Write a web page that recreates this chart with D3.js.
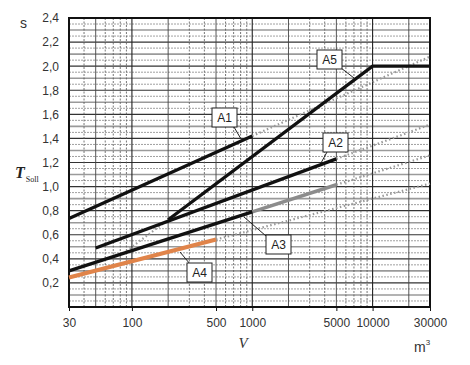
<!DOCTYPE html>
<html><head><meta charset="utf-8">
<script src="https://cdn.jsdelivr.net/npm/d3@7"></script>
<style>body{margin:0;background:#fff}svg{display:block}</style>
</head><body>
<svg id="c" width="470" height="365"></svg>
<script>
// ---- data ----
const xTickLabels = [30, 100, 500, 1000, 5000, 10000, 30000];
const yTickLabels = [0.2, 0.4, 0.6, 0.8, 1.0, 1.2, 1.4, 1.6, 1.8, 2.0, 2.2, 2.4];
// solid segments [V, T]
const lineA1 = [[30, 0.735], [1000, 1.42]];
const lineA2 = [[50, 0.49], [5000, 1.23]];
const lineA3 = [[30, 0.30], [1000, 0.79]];
const lineA3gray = [[1000, 0.79], [5000, 1.015]];
const lineA4 = [[30, 0.245], [500, 0.56]];
const lineA5 = [[200, 0.725], [10000, 2.0], [30000, 2.0]];
// dotted extensions
const dotA1 = [[1000, 1.42], [30000, 2.08]];
const dotA2 = [[5000, 1.23], [30000, 1.515]];
const dotA3 = [[5000, 1.015], [30000, 1.26]];
const dotA4 = [[500, 0.56], [30000, 1.025]];
const dotA5 = [[90, 0.465], [200, 0.725]];
const labelNames = ["A1", "A2", "A3", "A4", "A5"];

const svg = d3.select("#c");
const x = d3.scaleLog().domain([30, 30000]).range([69, 430]);
const y = d3.scaleLinear().domain([0, 2.4]).range([307, 18]);

// grid
const g = svg.append("g");
for (let v = 0.05; v < 2.4; v += 0.05) {
  const k = Math.round(v * 100);
  let stroke = "#888", w = 0.8, dash = "2,1";
  if (k % 20 === 0) { stroke = "#333"; w = 1.2; dash = null; }
  else if (k % 10 === 0) { stroke = "#9a9a9a"; w = 1.6; dash = null; }
  g.append("line").attr("x1", 69).attr("x2", 430).attr("y1", y(v)).attr("y2", y(v))
    .attr("stroke", stroke).attr("stroke-width", w).attr("stroke-dasharray", dash);
}
const vg = [];
for (const d of [10, 100, 1000, 10000]) for (let m = 1; m <= 9; m++) { const v = d * m; if (v > 30 && v < 30000) vg.push([v, m]); }
vg.forEach(([v, m]) => {
  let stroke = "#555", w = 0.8, dash = "2,1.5";
  if (m === 1) { stroke = "#222"; w = 1.1; dash = null; }
  else if (m === 2 || m === 5) { stroke = "#444"; w = 0.9; dash = null; }
  g.append("line").attr("x1", x(v)).attr("x2", x(v)).attr("y1", 18).attr("y2", 307)
    .attr("stroke", stroke).attr("stroke-width", w).attr("stroke-dasharray", dash);
});

// frame
svg.append("rect").attr("x", 69).attr("y", 18).attr("width", 361).attr("height", 289)
  .attr("fill", "none").attr("stroke", "#111").attr("stroke-width", 2);

// axes
const xAxis = d3.axisBottom(x).tickValues(xTickLabels).tickFormat(d => d).tickSize(4).tickSizeOuter(0);
const ax = svg.append("g").attr("transform", "translate(0,307)").call(xAxis);
ax.select(".domain").remove();
ax.selectAll("text").attr("font-family", "Liberation Sans, Arial, sans-serif").attr("font-size", 12).attr("fill", "#333").attr("dy", "1.1em");
ax.selectAll("line").attr("stroke", "#111");
const yAxis = d3.axisLeft(y).tickValues(yTickLabels).tickFormat(d => d3.format(".1f")(d).replace(".", ",")).tickSize(0).tickPadding(10);
const ay = svg.append("g").attr("transform", "translate(69,0)").call(yAxis);
ay.select(".domain").remove();
ay.selectAll("text").attr("font-family", "Liberation Sans, Arial, sans-serif").attr("font-size", 12).attr("fill", "#333");

// lines
const lg = d3.line().x(d => x(d[0])).y(d => y(d[1]));
const dotted = [dotA1, dotA2, dotA3, dotA4, dotA5];
dotted.forEach(d => svg.append("path").attr("d", lg(d)).attr("fill", "none")
  .attr("stroke", "#999").attr("stroke-width", 2.2).attr("stroke-dasharray", "1.5,2.5"));
svg.append("path").attr("d", lg(lineA3gray)).attr("fill", "none").attr("stroke", "#8c8c8c").attr("stroke-width", 3.6);
svg.append("path").attr("d", lg(lineA4)).attr("fill", "none").attr("stroke", "#e0844a").attr("stroke-width", 4.2);
[lineA1, lineA2, lineA3, lineA5].forEach(d => svg.append("path").attr("d", lg(d)).attr("fill", "none")
  .attr("stroke", "#111").attr("stroke-width", 3.3));

// labels with leaders: [name, boxX, boxY, leader from, leader to]
const boxes = [
  ["A1", 212, 108, [234, 127], [241, 139]],
  ["A2", 323, 133, [327, 152], [321, 163]],
  ["A3", 266, 235, [266, 236], [244, 217]],
  ["A4", 187, 263, [190, 264], [180, 252]],
  ["A5", 317, 50, [341, 68], [354, 78]]
];
boxes.forEach(([n, bx, by, p1, p2]) => {
  svg.append("line").attr("x1", p1[0]).attr("y1", p1[1]).attr("x2", p2[0]).attr("y2", p2[1])
    .attr("stroke", "#222").attr("stroke-width", 1);
  svg.append("rect").attr("x", bx).attr("y", by).attr("width", 25).attr("height", 19)
    .attr("fill", "#fff").attr("stroke", "#222").attr("stroke-width", 1);
  svg.append("text").attr("x", bx + 12.5).attr("y", by + 14).attr("text-anchor", "middle")
    .attr("font-family", "Liberation Sans, Arial, sans-serif").attr("font-size", 12).attr("fill", "#222").text(n);
});

// axis titles
svg.append("text").attr("x", 20).attr("y", 28).attr("font-family", "Liberation Sans, Arial, sans-serif")
  .attr("font-size", 14).attr("fill", "#333").text("s");
const t = svg.append("text").attr("x", 15).attr("y", 178).attr("font-family", "Liberation Serif, Times New Roman, serif").attr("fill", "#222");
t.append("tspan").attr("font-size", 16).attr("font-weight", "bold").attr("font-style", "italic").text("T");
t.append("tspan").attr("font-size", 8).attr("dy", 4).attr("dx", 1).text("Soll");
svg.append("text").attr("x", 243).attr("y", 348).attr("text-anchor", "middle").attr("font-family", "Liberation Serif, Times New Roman, serif")
  .attr("font-style", "italic").attr("font-size", 15).attr("fill", "#333").text("V");
const m = svg.append("text").attr("x", 414).attr("y", 352).attr("font-family", "Liberation Sans, Arial, sans-serif").attr("font-size", 14).attr("fill", "#333");
m.append("tspan").text("m");
m.append("tspan").attr("font-size", 8).attr("dy", -7).text("3");
</script>
</body></html>
